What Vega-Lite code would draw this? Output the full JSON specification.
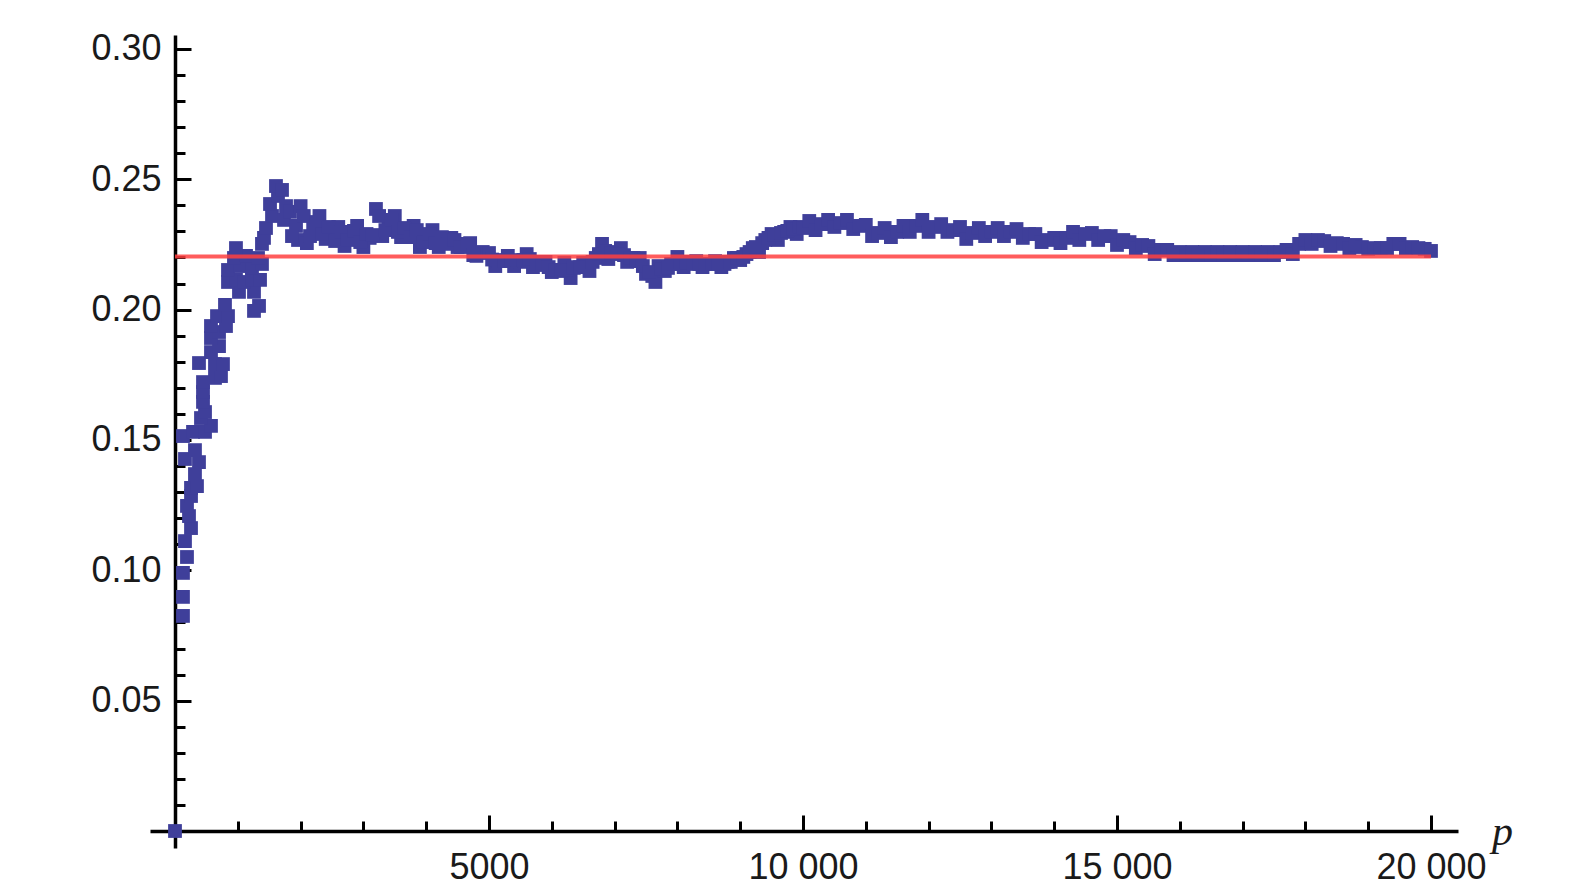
{
"$schema":"https://vega.github.io/schema/vega-lite/v6.json",
"width":1308,"height":813,
"autosize":"none",
"padding":{"left":150,"top":35,"right":115,"bottom":37},
"background":"white",
"config":{"view":{"stroke":null},"axis":{"zindex":1,"grid":false}},
"datasets":{
"pts":[
{"x":0,"y":0},{"x":127,"y":0.0825},{"x":127,"y":0.0898},{"x":127,"y":0.0990},{"x":191,"y":0.1051},{"x":159,"y":0.1112},{"x":255,"y":0.1162},{"x":223,"y":0.1208},{"x":191,"y":0.1247},{"x":255,"y":0.1285},{"x":255,"y":0.1316},{"x":350,"y":0.1323},{"x":318,"y":0.1369},{"x":382,"y":0.1415},{"x":159,"y":0.1427},{"x":318,"y":0.1461},{"x":127,"y":0.1515},{"x":287,"y":0.1531},{"x":478,"y":0.1531},{"x":573,"y":0.1554},{"x":414,"y":0.1584},{"x":478,"y":0.1607},{"x":446,"y":0.1646},{"x":446,"y":0.1684},{"x":446,"y":0.1722},{"x":637,"y":0.1738},{"x":732,"y":0.1745},{"x":382,"y":0.1795},{"x":637,"y":0.1791},{"x":764,"y":0.1791},{"x":573,"y":0.1837},{"x":701,"y":0.1860},{"x":573,"y":0.1891},{"x":701,"y":0.1914},{"x":573,"y":0.1937},{"x":812,"y":0.1937},{"x":669,"y":0.1975},{"x":844,"y":0.1975},{"x":796,"y":0.2018},{"x":1019,"y":0.2068},{"x":1258,"y":0.2068},{"x":1338,"y":0.2014},{"x":1258,"y":0.1995},{"x":844,"y":0.2106},{"x":971,"y":0.2114},{"x":1099,"y":0.2106},{"x":1226,"y":0.2114},{"x":1354,"y":0.2114},{"x":844,"y":0.2152},{"x":1035,"y":0.2167},{"x":1226,"y":0.2160},{"x":1385,"y":0.2175},{"x":939,"y":0.2198},{"x":1131,"y":0.2206},{"x":1322,"y":0.2198},{"x":971,"y":0.2236},{"x":1385,"y":0.2252},{"x":1417,"y":0.2275},{"x":1449,"y":0.2313},{"x":1545,"y":0.2359},{"x":1513,"y":0.2405},{"x":1640,"y":0.2436},{"x":1608,"y":0.2474},{"x":1704,"y":0.2459},{"x":1768,"y":0.2397},{"x":1736,"y":0.2344},{"x":1831,"y":0.2375},{"x":1927,"y":0.2321},{"x":1959,"y":0.2267},{"x":1863,"y":0.2282},
{"x":2000,"y":0.2397},{"x":2100,"y":0.2255},{"x":2200,"y":0.2313},{"x":2300,"y":0.2359},{"x":2400,"y":0.2271},{"x":2500,"y":0.2298},{"x":2600,"y":0.2317},{"x":2700,"y":0.2244},{"x":2800,"y":0.2286},{"x":2900,"y":0.2321},{"x":3000,"y":0.2240},{"x":3100,"y":0.2275},{"x":3200,"y":0.2386},{"x":3300,"y":0.2282},{"x":3400,"y":0.2336},{"x":3500,"y":0.2359},{"x":3600,"y":0.2278},{"x":3700,"y":0.2298},{"x":3800,"y":0.2321},{"x":3900,"y":0.2240},{"x":4000,"y":0.2282},{"x":4100,"y":0.2305},{"x":4200,"y":0.2240},{"x":4300,"y":0.2267},{"x":4400,"y":0.2275},{"x":4500,"y":0.2240},{"x":4600,"y":0.2252},{"x":4700,"y":0.2255},{"x":4800,"y":0.2206},{"x":4900,"y":0.2221},{"x":5000,"y":0.2217},{"x":5100,"y":0.2167},{"x":5200,"y":0.2190},{"x":5300,"y":0.2206},{"x":5400,"y":0.2167},{"x":5500,"y":0.2183},{"x":5600,"y":0.2213},{"x":5700,"y":0.2163},{"x":5800,"y":0.2183},{"x":5900,"y":0.2183},{"x":6000,"y":0.2144},{"x":6100,"y":0.2152},{"x":6200,"y":0.2179},{"x":6300,"y":0.2121},{"x":6400,"y":0.2163},{"x":6500,"y":0.2179},{"x":6600,"y":0.2148},{"x":6700,"y":0.2198},{"x":6800,"y":0.2252},{"x":6900,"y":0.2194},{"x":7000,"y":0.2221},{"x":7100,"y":0.2236},{"x":7200,"y":0.2183},{"x":7300,"y":0.2198},{"x":7400,"y":0.2198},{"x":7500,"y":0.2137},{"x":7600,"y":0.2129},{"x":7650,"y":0.2106},{"x":7700,"y":0.2167},{"x":7800,"y":0.2148},{"x":7900,"y":0.2175},{"x":8000,"y":0.2202},{"x":8100,"y":0.2163},{"x":8200,"y":0.2183},{"x":8300,"y":0.2186},{"x":8400,"y":0.2163},{"x":8500,"y":0.2175},{"x":8600,"y":0.2186},{"x":8700,"y":0.2163},{"x":8800,"y":0.2183},{"x":8900,"y":0.2198},{"x":9000,"y":0.2190},{"x":9100,"y":0.2213},{"x":9200,"y":0.2236},{"x":9300,"y":0.2221},{"x":9400,"y":0.2267},{"x":9500,"y":0.2290},{"x":9600,"y":0.2267},{"x":9700,"y":0.2298},{"x":9800,"y":0.2317},{"x":9900,"y":0.2290},
{"x":2050,"y":0.2359},{"x":2150,"y":0.2282},{"x":2250,"y":0.2336},{"x":2350,"y":0.2290},{"x":2450,"y":0.2317},{"x":2550,"y":0.2263},{"x":2650,"y":0.2298},{"x":2750,"y":0.2267},{"x":2850,"y":0.2302},{"x":2950,"y":0.2259},{"x":3050,"y":0.2290},{"x":3150,"y":0.2286},{"x":3250,"y":0.2359},{"x":3350,"y":0.2305},{"x":3450,"y":0.2344},{"x":3550,"y":0.2298},{"x":3650,"y":0.2313},{"x":3750,"y":0.2278},{"x":3850,"y":0.2305},{"x":3950,"y":0.2259},{"x":4050,"y":0.2290},{"x":4150,"y":0.2255},{"x":4250,"y":0.2278},{"x":4350,"y":0.2252},{"x":4450,"y":0.2267},{"x":4550,"y":0.2240},{"x":4650,"y":0.2252},{"x":4750,"y":0.2209},
{"x":5050,"y":0.2192},{"x":5150,"y":0.2188},{"x":5250,"y":0.2186},{"x":5350,"y":0.2186},{"x":5450,"y":0.2190},{"x":5550,"y":0.2190},{"x":5650,"y":0.2194},{"x":5750,"y":0.2175},{"x":5850,"y":0.2171},{"x":5950,"y":0.2163},{"x":6050,"y":0.2152},{"x":6150,"y":0.2148},{"x":6250,"y":0.2152},{"x":6350,"y":0.2160},{"x":6450,"y":0.2163},{"x":6550,"y":0.2163},{"x":6650,"y":0.2183},{"x":6750,"y":0.2213},{"x":6850,"y":0.2225},{"x":6950,"y":0.2217},{"x":7050,"y":0.2213},{"x":7150,"y":0.2209},{"x":7250,"y":0.2198},{"x":7350,"y":0.2186},{"x":7450,"y":0.2167},{"x":7550,"y":0.2144},{"x":7750,"y":0.2156},{"x":7850,"y":0.2160},{"x":7950,"y":0.2175},{"x":8050,"y":0.2183},{"x":8150,"y":0.2179},{"x":8250,"y":0.2175},{"x":8350,"y":0.2175},{"x":8450,"y":0.2175},{"x":8550,"y":0.2175},{"x":8650,"y":0.2175},{"x":8750,"y":0.2175},{"x":8850,"y":0.2183},{"x":8950,"y":0.2198},{"x":9050,"y":0.2202},{"x":9150,"y":0.2221},{"x":9250,"y":0.2240},{"x":9350,"y":0.2255},{"x":9450,"y":0.2275},{"x":9550,"y":0.2286},{"x":9650,"y":0.2294},{"x":9750,"y":0.2302},{"x":9850,"y":0.2309},{"x":9950,"y":0.2317},
{"x":10000,"y":0.2313},{"x":10100,"y":0.2340},{"x":10200,"y":0.2305},{"x":10300,"y":0.2328},{"x":10400,"y":0.2344},{"x":10500,"y":0.2317},{"x":10600,"y":0.2332},{"x":10700,"y":0.2344},{"x":10800,"y":0.2309},{"x":10900,"y":0.2321},{"x":11000,"y":0.2325},{"x":11100,"y":0.2282},{"x":11200,"y":0.2294},{"x":11300,"y":0.2313},{"x":11400,"y":0.2278},{"x":11500,"y":0.2298},{"x":11600,"y":0.2321},{"x":11700,"y":0.2298},{"x":11800,"y":0.2321},{"x":11900,"y":0.2344},{"x":12000,"y":0.2298},{"x":12100,"y":0.2317},{"x":12200,"y":0.2328},{"x":12300,"y":0.2298},{"x":12400,"y":0.2305},{"x":12500,"y":0.2317},{"x":12600,"y":0.2271},{"x":12700,"y":0.2294},{"x":12800,"y":0.2313},{"x":12900,"y":0.2282},{"x":13000,"y":0.2298},{"x":13100,"y":0.2313},{"x":13200,"y":0.2282},{"x":13300,"y":0.2298},{"x":13400,"y":0.2309},{"x":13500,"y":0.2275},{"x":13600,"y":0.2290},{"x":13700,"y":0.2290},{"x":13800,"y":0.2259},{"x":13900,"y":0.2267},{"x":14000,"y":0.2275},{"x":14100,"y":0.2255},{"x":14200,"y":0.2275},{"x":14300,"y":0.2298},{"x":14400,"y":0.2267},{"x":14500,"y":0.2290},{"x":14600,"y":0.2294},{"x":14700,"y":0.2267},{"x":14800,"y":0.2282},{"x":14900,"y":0.2282},{"x":15000,"y":0.2248},{"x":15100,"y":0.2267},{"x":15200,"y":0.2259},{"x":15300,"y":0.2236},{"x":15400,"y":0.2248},{"x":15500,"y":0.2244},{"x":15600,"y":0.2213},{"x":15700,"y":0.2229},{"x":15800,"y":0.2229},{"x":15900,"y":0.2209},{"x":16000,"y":0.2221},{"x":16100,"y":0.2209},{"x":16200,"y":0.2221},{"x":16300,"y":0.2209},{"x":16400,"y":0.2221},{"x":16500,"y":0.2209},{"x":16600,"y":0.2221},{"x":16700,"y":0.2209},{"x":16800,"y":0.2221},{"x":16900,"y":0.2209},{"x":17000,"y":0.2221},{"x":17100,"y":0.2209},{"x":17200,"y":0.2221},{"x":17300,"y":0.2209},{"x":17400,"y":0.2221},{"x":17500,"y":0.2209},{"x":17600,"y":0.2221},{"x":17700,"y":0.2229},{"x":17800,"y":0.2213},{"x":17900,"y":0.2252},{"x":18000,"y":0.2267},{"x":18100,"y":0.2252},{"x":18200,"y":0.2267},{"x":18300,"y":0.2263},{"x":18400,"y":0.2244},{"x":18500,"y":0.2255},{"x":18600,"y":0.2252},{"x":18700,"y":0.2236},{"x":18800,"y":0.2248},{"x":18900,"y":0.2240},{"x":19000,"y":0.2233},{"x":19100,"y":0.2236},{"x":19200,"y":0.2236},{"x":19300,"y":0.2236},{"x":19400,"y":0.2252},{"x":19500,"y":0.2252},{"x":19600,"y":0.2236},{"x":19700,"y":0.2240},{"x":19800,"y":0.2236},{"x":19900,"y":0.2233},{"x":20000,"y":0.2225}
],
"ref":[{"x":0,"x2":20000,"y":0.2204}]
},
"layer":[
{"data":{"name":"pts"},"mark":{"type":"point","opacity":0},
 "encoding":{
  "x":{"field":"x","type":"quantitative","scale":{"domain":[-398,20430],"nice":false,"zero":false},
   "axis":{"orient":"bottom","offset":-17,"values":[1000,2000,3000,4000,6000,7000,8000,9000,11000,12000,13000,14000,16000,17000,18000,19000],"tickSize":-10,"tickWidth":3,"tickColor":"black","labels":false,"domain":false,"title":null}},
  "y":{"field":"y","type":"quantitative","scale":{"domain":[-0.00652,0.30533],"nice":false,"zero":false},
   "axis":{"orient":"left","offset":-25,"values":[0.01,0.02,0.03,0.04,0.06,0.07,0.08,0.09,0.11,0.12,0.13,0.14,0.16,0.17,0.18,0.19,0.21,0.22,0.23,0.24,0.26,0.27,0.28,0.29],"tickSize":-10,"tickWidth":3,"tickColor":"black","labels":false,"domain":false,"title":null}}
 }},
{"data":{"name":"pts"},"mark":{"type":"point","shape":"square","filled":true,"size":190,"color":"#3f3f9a","opacity":1,"strokeWidth":0},
 "encoding":{
  "x":{"field":"x","type":"quantitative",
   "axis":{"orient":"bottom","offset":-17,"values":[5000,10000,15000,20000],"tickSize":-16,"tickWidth":3,"tickColor":"black","domain":true,"domainColor":"black","domainWidth":3.5,"labelFont":"Liberation Sans","labelFontSize":36,"labelColor":"#1a1a1a","labelPadding":35,"labelFlush":false,"labelOverlap":false,"labelExpr":"datum.value >= 10000 ? replace(format(datum.value, ','), ',', ' ') : format(datum.value, 'd')","title":"p","titleFont":"Liberation Serif","titleFontStyle":"italic","titleFontWeight":"normal","titleFontSize":42,"titleColor":"#1a1a1a","titleX":1352,"titleY":13,"titleAlign":"center","titleBaseline":"alphabetic","titleAngle":0}},
  "y":{"field":"y","type":"quantitative",
   "axis":{"orient":"left","offset":-25,"values":[0.05,0.1,0.15,0.2,0.25,0.3],"format":".2f","tickSize":-16,"tickWidth":3,"tickColor":"black","domain":true,"domainColor":"black","domainWidth":3.5,"labelFont":"Liberation Sans","labelFontSize":36,"labelColor":"#1a1a1a","labelPadding":30,"labelFlush":false,"labelOverlap":false,"title":null}}
 }},
{"data":{"name":"ref"},"mark":{"type":"rule","color":"#ff4040","strokeWidth":4,"opacity":0.85},
 "encoding":{
  "x":{"field":"x","type":"quantitative","axis":null},
  "x2":{"field":"x2"},
  "y":{"field":"y","type":"quantitative","axis":null}
 }}
],
"resolve":{"axis":{"x":"independent","y":"independent"}}
}
